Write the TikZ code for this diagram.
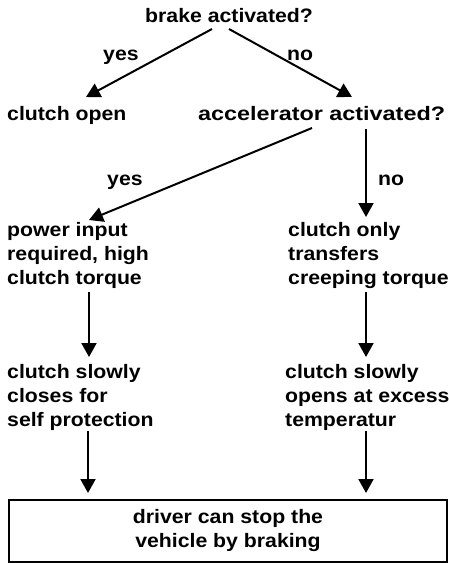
\documentclass[tikz,border=0pt]{standalone}
\usepackage{fontspec}
\setmainfont[FakeStretch=1.09]{Liberation Sans}
\usetikzlibrary{arrows.meta}
\tikzset{
  txt/.style={inner sep=0pt, anchor=base west, align=left, font=\fontsize{19.5}{23.7}\selectfont\bfseries},
  lbl/.style={inner sep=0pt, anchor=base west, font=\fontsize{19.5}{23.7}\selectfont\bfseries},
  arr/.style={line width=2pt, -{Triangle[length=14pt,width=15pt]}},
  endbox/.style={draw, line width=2pt, minimum width=437.5pt, minimum height=62pt, inner sep=0pt, align=center, font=\fontsize{19.5}{23.7}\selectfont\bfseries}
}
\begin{document}
\begin{tikzpicture}[x=1pt,y=-1pt]
\useasboundingbox (0,0) rectangle (448,563);
% nodes (multi-line nodes: base = baseline of last line)
\node[lbl] (brake) at (145,22) {brake activated?};
\node[lbl] (copen) at (7,120) {clutch open};
\node[lbl] (accel) at (198,120) {\scalebox{1.1}[1]{accelerator activated?}};
\node[lbl] (yes1) at (103,60) {yes};
\node[lbl] (no1) at (287,60) {no};
\node[lbl] (yes2) at (107,185) {yes};
\node[lbl] (no2) at (378,185) {no};
\node[txt] (power) at (7,284) {power input\\required, high\\clutch torque};
\node[txt] (conly) at (288,284) {clutch only\\transfers\\creeping torque};
\node[txt] (close) at (7,426) {clutch slowly\\closes for\\self protection};
\node[txt] (opens) at (285,426) {clutch slowly\\opens at excess\\temperatur};
\node[endbox] (driver) at (228,530.5) {driver can stop the\\vehicle by braking};
% connector end points
\coordinate (brakeL) at (212,29);
\coordinate (brakeR) at (229,29);
\coordinate (copenT) at (86,97);
\coordinate (accelT) at (352,97);
\coordinate (accelL) at (312,128);
\coordinate (accelB) at (366,129);
\coordinate (powerT) at (89,220);
\coordinate (conlyT) at (366,217);
\coordinate (powerB) at (89,292);
\coordinate (conlyB) at (366,292);
\coordinate (closeT) at (89,357);
\coordinate (opensT) at (366,357);
\coordinate (closeB) at (88,431);
\coordinate (opensB) at (366,431);
\coordinate (driverL) at (88,493);
\coordinate (driverR) at (366,493);
% connectors
\draw[arr] (brakeL) -- (copenT);
\draw[arr] (brakeR) -- (accelT);
\draw[arr] (accelL) -- (powerT);
\draw[arr] (accelB) -- (conlyT);
\draw[arr] (powerB) -- (closeT);
\draw[arr] (conlyB) -- (opensT);
\draw[arr] (closeB) -- (driverL);
\draw[arr] (opensB) -- (driverR);
\end{tikzpicture}
\end{document}
